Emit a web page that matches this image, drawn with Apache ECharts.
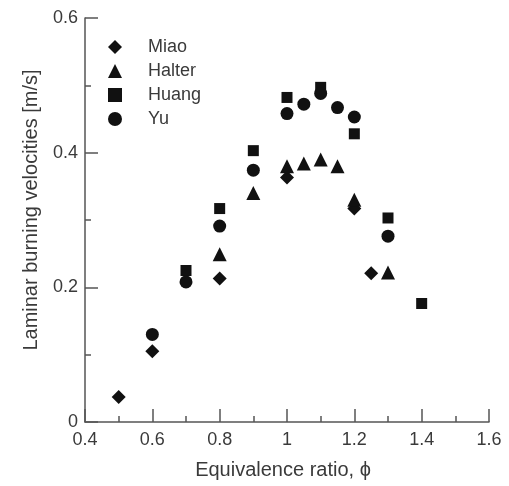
<!DOCTYPE html>
<html>
<head>
<meta charset="utf-8">
<script src="https://cdn.jsdelivr.net/npm/echarts@6/dist/echarts.min.js"></script>
<style>
  html, body { margin: 0; padding: 0; background: #fff; }
  #chart { width: 509px; height: 486px; }
</style>
</head>
<body>
<div id="chart"></div>
<script>
// values: [phi, velocity m/s]
const miao = [[0.5, 0.037], [0.6, 0.105], [0.8, 0.213], [1.0, 0.363], [1.2, 0.317], [1.25, 0.221]];
const halter = [[0.8, 0.249], [0.9, 0.340], [1.0, 0.380], [1.05, 0.384], [1.1, 0.390], [1.15, 0.380], [1.2, 0.330], [1.3, 0.222]];
const huang = [[0.7, 0.225], [0.8, 0.317], [0.9, 0.403], [1.0, 0.482], [1.1, 0.497], [1.2, 0.428], [1.3, 0.303], [1.4, 0.176]];
const yu = [[0.6, 0.130], [0.7, 0.208], [0.8, 0.291], [0.9, 0.374], [1.0, 0.458], [1.05, 0.472], [1.1, 0.488], [1.15, 0.467], [1.2, 0.453], [1.3, 0.276]];

const txt = '#3a3a3a';
const axisCol = '#555';
const font = 'Liberation Sans, Arial, sans-serif';

function mk(name, data, symbol, size) {
  return {
    name: name,
    type: 'scatter',
    data: data,
    symbol: symbol,
    symbolSize: size,
    itemStyle: { color: '#111', opacity: 1 },
  };
}

const axisCommon = {
  axisLine: { lineStyle: { color: axisCol, width: 1.5 } },
  axisTick: { inside: true, length: 13, lineStyle: { color: axisCol, width: 1.5 } },
  minorTick: { show: true, splitNumber: 2, length: 6, lineStyle: { color: axisCol, width: 1.5 } },
  splitLine: { show: false },
  axisLabel: { color: txt, fontSize: 18, fontFamily: font },
};

const option = {
  animation: false,
  grid: { left: 85, right: 20, top: 18, bottom: 64 },
  xAxis: Object.assign({}, axisCommon, {
    type: 'value',
    min: 0.4,
    max: 1.6,
    interval: 0.2,
    name: 'Equivalence ratio, \u03D5',
    nameLocation: 'middle',
    nameGap: 38,
    nameTextStyle: { color: txt, fontSize: 20, fontFamily: font, padding: [0, 8, 0, 0] },
    axisLabel: Object.assign({}, axisCommon.axisLabel, { margin: 9 }),
  }),
  yAxis: Object.assign({}, axisCommon, {
    type: 'value',
    min: 0,
    max: 0.6,
    interval: 0.2,
    name: 'Laminar burning velocities [m/s]',
    nameLocation: 'middle',
    nameGap: 44,
    nameTextStyle: { color: txt, fontSize: 20, fontFamily: font, padding: [0, 0, 0, 20] },
    axisLabel: Object.assign({}, axisCommon.axisLabel, { margin: 7 }),
  }),
  legend: {
    orient: 'vertical',
    left: 103,
    top: 33,
    itemWidth: 14,
    itemHeight: 14,
    itemGap: 6,
    textStyle: { color: txt, fontSize: 18, fontFamily: font, padding: [0, 0, 0, 21] },
    data: ['Miao', 'Halter', 'Huang', 'Yu'],
  },
  series: [
    mk('Miao', miao, 'diamond', 14),
    mk('Halter', halter, 'triangle', 14),
    mk('Huang', huang, 'rect', 11),
    mk('Yu', yu, 'circle', 13),
  ],
};

const myChart = echarts.init(document.getElementById('chart'));
myChart.setOption(option);
</script>
</body>
</html>
